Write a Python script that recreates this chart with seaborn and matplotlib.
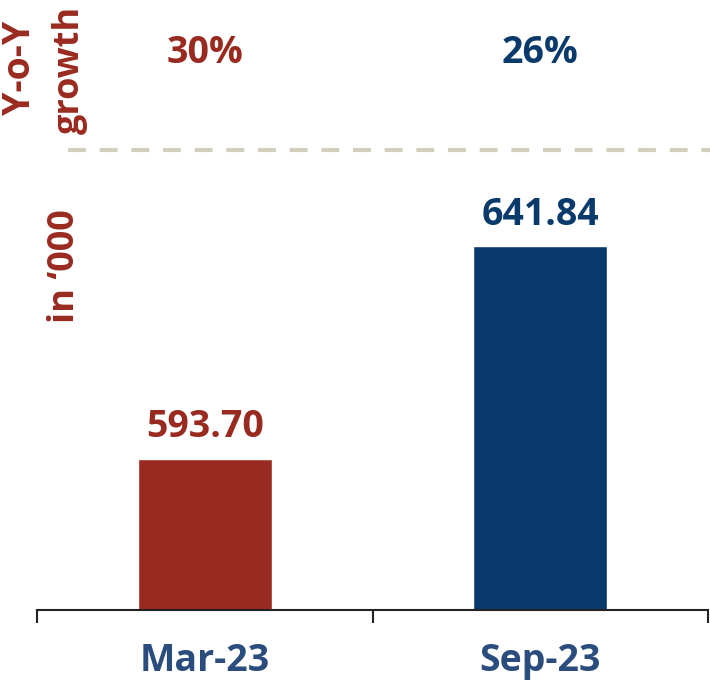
import matplotlib
matplotlib.use("Agg")
import matplotlib.pyplot as plt
from matplotlib.lines import Line2D
from matplotlib.transforms import blended_transform_factory
import seaborn as sns
import pandas as pd

periods = ["Mar-23", "Sep-23"]
values = [593.70, 641.84]
growth = ["30%", "26%"]
colors = ["#992a20", "#0a3a6b"]
label_color = "#2b4d7e"

sns.set_theme(style="white")
plt.rcParams["font.family"] = ["Open Sans", "DejaVu Sans"]

df = pd.DataFrame({"period": periods, "value": values})

fig = plt.figure(figsize=(7.10, 6.82), dpi=100)
ax = fig.add_axes([37 / 710, 72 / 682, 671 / 710, 610 / 682])

sns.barplot(data=df, x="period", y="value", hue="period", palette=colors,
            width=0.4, legend=False, ax=ax, saturation=1)

ax.set_xlim(-0.5, 1.5)
ax.set_ylim(559.5, 697.5)
ax.set_xlabel("")
ax.set_ylabel("")
ax.set_yticks([])
for s in ["top", "right", "left"]:
    ax.spines[s].set_visible(False)
ax.spines["bottom"].set_color("#222222")
ax.spines["bottom"].set_linewidth(1.5)

# category boundary ticks below the baseline
ax.set_xticks([-0.5, 0.5, 1.5], minor=True)
ax.tick_params(axis="x", which="minor", direction="out", length=9,
               width=1.5, color="#222222", bottom=True)
ax.tick_params(axis="x", which="major", length=0, pad=23,
               labelsize=27, labelcolor=label_color)
for t in ax.get_xticklabels():
    t.set_fontweight("bold")

# value labels above the bars
for i, (v, c) in enumerate(zip(values, colors)):
    ax.annotate(f"{v:.2f}", (i, v), xytext=(0, 9), textcoords="offset points",
                ha="center", va="bottom", fontsize=27, fontweight="bold", color=c)

# growth row above the dashed divider
trans = blended_transform_factory(ax.transData, fig.transFigure)
for i, (g, c) in enumerate(zip(growth, colors)):
    ax.text(i, 1 - 53 / 682, g, transform=trans, ha="center", va="center",
            fontsize=27, fontweight="bold", color=c)

fig.add_artist(Line2D([68 / 710, 1.0], [1 - 150 / 682] * 2, transform=fig.transFigure,
                      color="#d2d0bd", linewidth=3, linestyle=(0, (4.3, 3.3))))

red = colors[0]
fig.text(20 / 710, 1 - 68 / 682, "Y-o-Y", rotation=90, ha="center", va="center",
         fontsize=27, fontweight="bold", color=red)
fig.text(70 / 710, 1 - 70 / 682, "growth", rotation=90, ha="center", va="center",
         fontsize=26, fontweight="bold", color=red)
fig.text(65 / 710, 1 - 266 / 682, "in ‘000", rotation=90, ha="center", va="center",
         fontsize=26, fontweight="bold", color=red)

fig.savefig("out.png", dpi=100)
